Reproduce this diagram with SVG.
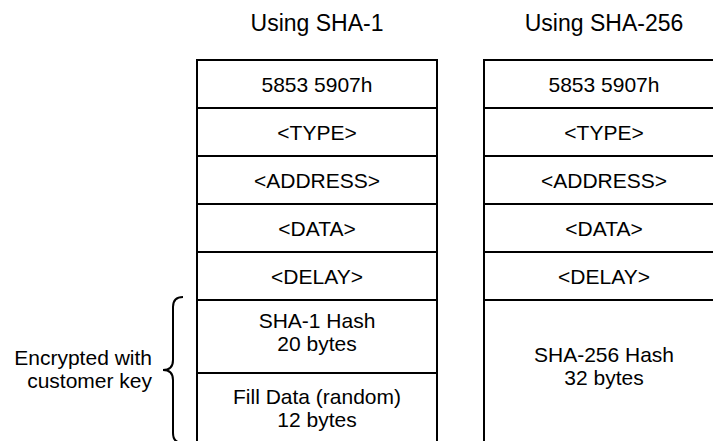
<svg xmlns="http://www.w3.org/2000/svg" width="713" height="441" viewBox="0 0 713 441">
<style>
.cell{fill:#fff;stroke:#000;stroke-width:2}
.t{font-family:"Liberation Sans",Arial,sans-serif;font-size:21px;fill:#000;text-anchor:middle}
.h{font-family:"Liberation Sans",Arial,sans-serif;font-size:23px;fill:#000;text-anchor:middle}
.l{font-family:"Liberation Sans",Arial,sans-serif;font-size:21px;fill:#000;text-anchor:end}
.brace{fill:none;stroke:#000;stroke-width:2}
</style>
<rect width="713" height="441" fill="#fff"/>
<g id="titles">
<text class="h" x="317" y="31">Using SHA-1</text>
<text class="h" x="604" y="31">Using SHA-256</text>
</g>
<g id="sha1-magic"><rect class="cell" x="197" y="60" width="240" height="48"/><text class="t" x="317" y="92">5853 5907h</text></g>
<g id="sha1-type"><rect class="cell" x="197" y="108" width="240" height="48"/><text class="t" x="317" y="140">&lt;TYPE&gt;</text></g>
<g id="sha1-address"><rect class="cell" x="197" y="156" width="240" height="48"/><text class="t" x="317" y="188">&lt;ADDRESS&gt;</text></g>
<g id="sha1-data"><rect class="cell" x="197" y="204" width="240" height="48"/><text class="t" x="317" y="236">&lt;DATA&gt;</text></g>
<g id="sha1-delay"><rect class="cell" x="197" y="252" width="240" height="48"/><text class="t" x="317" y="284">&lt;DELAY&gt;</text></g>
<g id="sha1-hash"><rect class="cell" x="197" y="300" width="240" height="73"/><text class="t" x="317" y="328">SHA-1 Hash</text><text class="t" x="317" y="351">20 bytes</text></g>
<g id="sha1-fill"><rect class="cell" x="197" y="373" width="240" height="90"/><text class="t" x="317" y="404">Fill Data (random)</text><text class="t" x="317" y="427">12 bytes</text></g>
<g id="sha256-magic"><rect class="cell" x="484" y="60" width="240" height="48"/><text class="t" x="604" y="92">5853 5907h</text></g>
<g id="sha256-type"><rect class="cell" x="484" y="108" width="240" height="48"/><text class="t" x="604" y="140">&lt;TYPE&gt;</text></g>
<g id="sha256-address"><rect class="cell" x="484" y="156" width="240" height="48"/><text class="t" x="604" y="188">&lt;ADDRESS&gt;</text></g>
<g id="sha256-data"><rect class="cell" x="484" y="204" width="240" height="48"/><text class="t" x="604" y="236">&lt;DATA&gt;</text></g>
<g id="sha256-delay"><rect class="cell" x="484" y="252" width="240" height="48"/><text class="t" x="604" y="284">&lt;DELAY&gt;</text></g>
<g id="sha256-hash"><rect class="cell" x="484" y="300" width="240" height="163"/><text class="t" x="604" y="362">SHA-256 Hash</text><text class="t" x="604" y="385">32 bytes</text></g>
<g id="connectors">
<path class="brace" d="M183,297 Q173,297 173,307 L173,360 Q173,370 163,370 Q173,370 173,380 L173,433 Q173,443 183,443"/>
</g>
<g id="label">
<text class="l" x="152" y="365">Encrypted with</text>
<text class="l" x="152" y="388">customer key</text>
</g>
</svg>
